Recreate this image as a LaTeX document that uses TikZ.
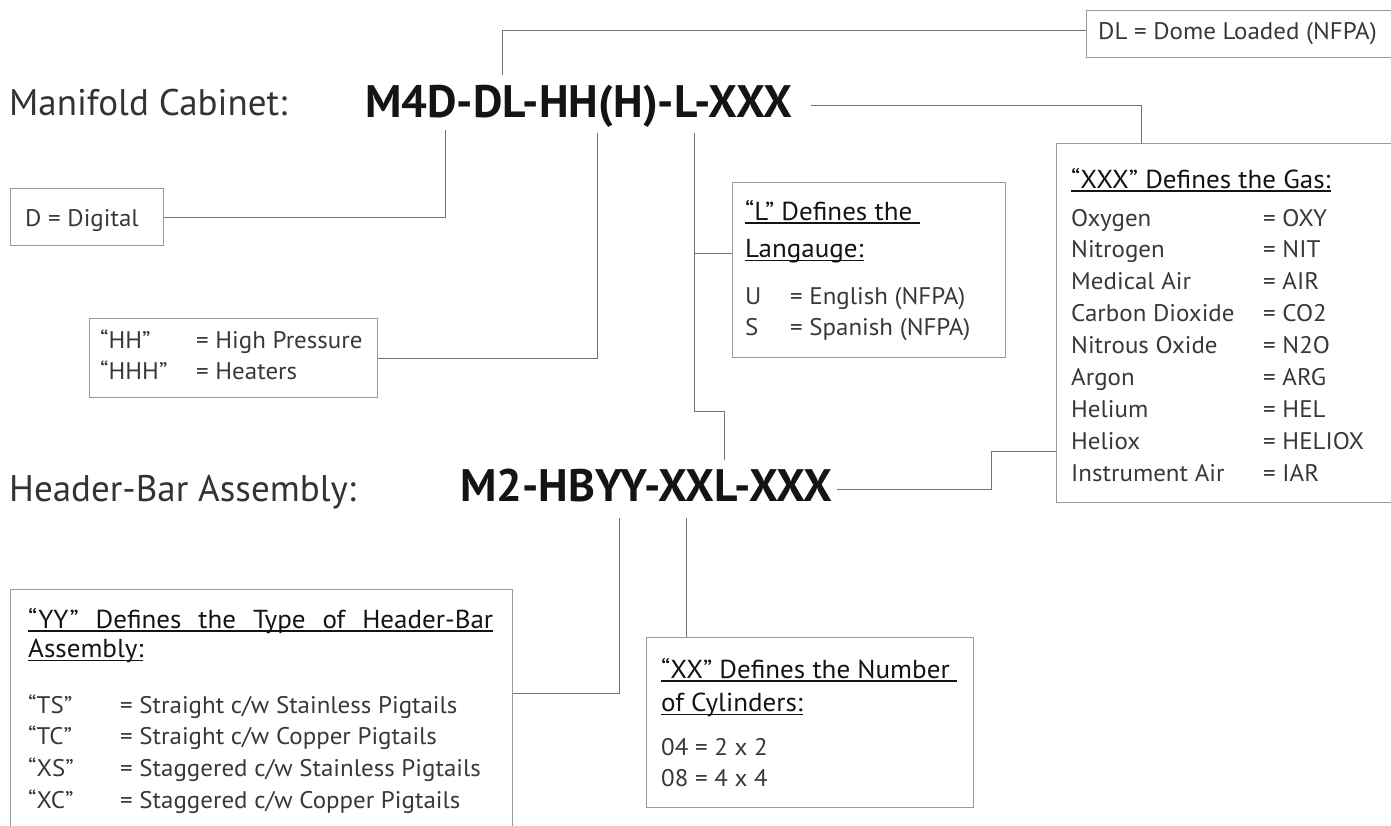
\documentclass[tikz,border=0pt]{standalone}
\usepackage{fontspec}
\setmainfont{PT Sans}
\newfontfamily\bodyfont{PT Sans}[FakeStretch=1.04]
\usepackage{tikz}
\usetikzlibrary{positioning}

% underline that runs just under the baseline
\newcommand\ulined[1]{\setbox0\hbox{#1}\rlap{\rule[-3.5pt]{\wd0}{1.1pt}}\box0}

\tikzset{
  box/.style={draw=black!40, line width=1.3pt, anchor=north west, inner sep=0pt},
  link/.style={draw=black!55, line width=1pt},
  txt/.style={anchor=base west, inner sep=0pt, text=black!78, font=\bodyfont\fontsize{24}{31.9}\selectfont},
  ttl/.style={anchor=base west, inner sep=0pt, text=black!92, font=\bodyfont\fontsize{26}{31.9}\selectfont},
  head/.style={anchor=base west, inner sep=0pt, text=black!80, font=\fontsize{37}{40}\selectfont},
  code/.style={anchor=base west, inner sep=0pt, text=black!92, font=\bfseries\fontsize{45.5}{48}\selectfont},
}

\begin{document}
\begin{tikzpicture}[x=1pt, y=-1pt]
    \useasboundingbox (0,0) rectangle (1391,825);

    % the two part numbers
    \node[head] (mhead) at (9,115) {Manifold Cabinet:};
    \node[code] (mcode) at (365,117) {M4D-DL-HH(H)-L-XXX};
    \node[head] (hhead) at (9,501) {Header-Bar Assembly:};
    \node[code] (hcode) at (460,501) {M2-HBYY-XXL-XXX};

    % boxes
    \node[box, minimum width=330pt, minimum height=47pt] (dlbox) at (1086,10) {};
    \node[box, minimum width=153pt, minimum height=57pt] (dbox) at (10,188) {};
    \node[box, minimum width=288pt, minimum height=79pt] (hbox) at (89,318) {};
    \node[box, minimum width=273pt, minimum height=175pt] (lbox) at (732,182) {};
    \node[box, minimum width=350pt, minimum height=359pt] (gbox) at (1056,143) {};
    \node[box, minimum width=502pt, minimum height=260pt] (ybox) at (10,589) {};
    \node[box, minimum width=327pt, minimum height=170pt] (xbox) at (646,637) {};

    % box texts
    \node[txt] (dltext) at (1098,39) {DL = Dome Loaded (NFPA)};
    \node[txt] (dtext) at (25,226) {D = Digital};
    \node[txt] (htext) at (100,348) {\begin{tabular}[t]{@{}p{96pt}@{}l@{}}
        “HH” & = High Pressure\\
        “HHH” & = Heaters
      \end{tabular}};
    \node[ttl] (ltitle) at (745,220) {\begin{tabular}[t]{@{}l@{}}
        \ulined{“L” Defines the\ }\\[6pt]
        \ulined{Langauge:}
      \end{tabular}};
    \node[txt] (ltext) at (745,304) {\begin{tabular}[t]{@{}p{45pt}@{}l@{}}
        U & = English (NFPA)\\
        S & = Spanish (NFPA)
      \end{tabular}};
    \node[ttl] (gtitle) at (1071,188) {\ulined{“XXX” Defines the Gas:}};
    \node[txt] (gtext) at (1071,226) {\begin{tabular}[t]{@{}p{192pt}@{}l@{}}
        Oxygen & = OXY\\
        Nitrogen & = NIT\\
        Medical Air & = AIR\\
        Carbon Dioxide & = CO2\\
        Nitrous Oxide & = N2O\\
        Argon & = ARG\\
        Helium & = HEL\\
        Heliox & = HELIOX\\
        Instrument Air & = IAR
      \end{tabular}};
    \node[ttl] (ytitle) at (28,628) {\begin{tabular}[t]{@{}l@{}}
        \ulined{\makebox[465pt][s]{“YY” Defines the Type of Header-Bar}}\\[-2pt]
        \ulined{Assembly:}
      \end{tabular}};
    \node[txt] (ytext) at (28,713) {\begin{tabular}[t]{@{}p{92pt}@{}l@{}}
        “TS” & = Straight c/w Stainless Pigtails\\
        “TC” & = Straight c/w Copper Pigtails\\
        “XS” & = Staggered c/w Stainless Pigtails\\
        “XC” & = Staggered c/w Copper Pigtails
      \end{tabular}};
    \node[ttl] (xtitle) at (661,678) {\begin{tabular}[t]{@{}l@{}}
        \ulined{“XX” Defines the Number\ }\\[2pt]
        \ulined{of Cylinders:}
      \end{tabular}};
    \node[txt] (xtext) at (661,755) {\begin{tabular}[t]{@{}l@{}}
        04 = 2 x 2\\
        08 = 4 x 4
      \end{tabular}};

    % connector ends
    \coordinate (tDL) at (502,75);
    \coordinate (bD) at (445,130);
    \coordinate (bH) at (597,133);
    \coordinate (bL) at (694,133);
    \coordinate (jL) at (694,253);
    \coordinate (tM2) at (724,460);
    \coordinate (eM4) at (811,105);
    \coordinate (jG) at (1141,105);
    \coordinate (eM2) at (837,489);
    \coordinate (jG2) at (991,451);
    \coordinate (bY) at (619,518);
    \coordinate (jY) at (619,693);
    \coordinate (bX) at (686,518);

    % connectors
    \draw[link] ([yshift=4pt]dlbox.west) -| (tDL);
    \draw[link] (bD) |- (dbox.east);
    \draw[link] (bH) |- (hbox.east);
    \draw[link] (bL) -- ++(0,278) -| (tM2);
    \draw[link] (jL) -- (jL -| lbox.west);
    \draw[link] (eM4) -- (jG) -- (jG |- gbox.north);
    \draw[link] (eM2) -| (jG2) -- (jG2 -| gbox.west);
    \draw[link] (bY) -- (jY) -- (jY -| ybox.east);
    \draw[link] (bX) -- (bX |- xbox.north);
\end{tikzpicture}
\end{document}
